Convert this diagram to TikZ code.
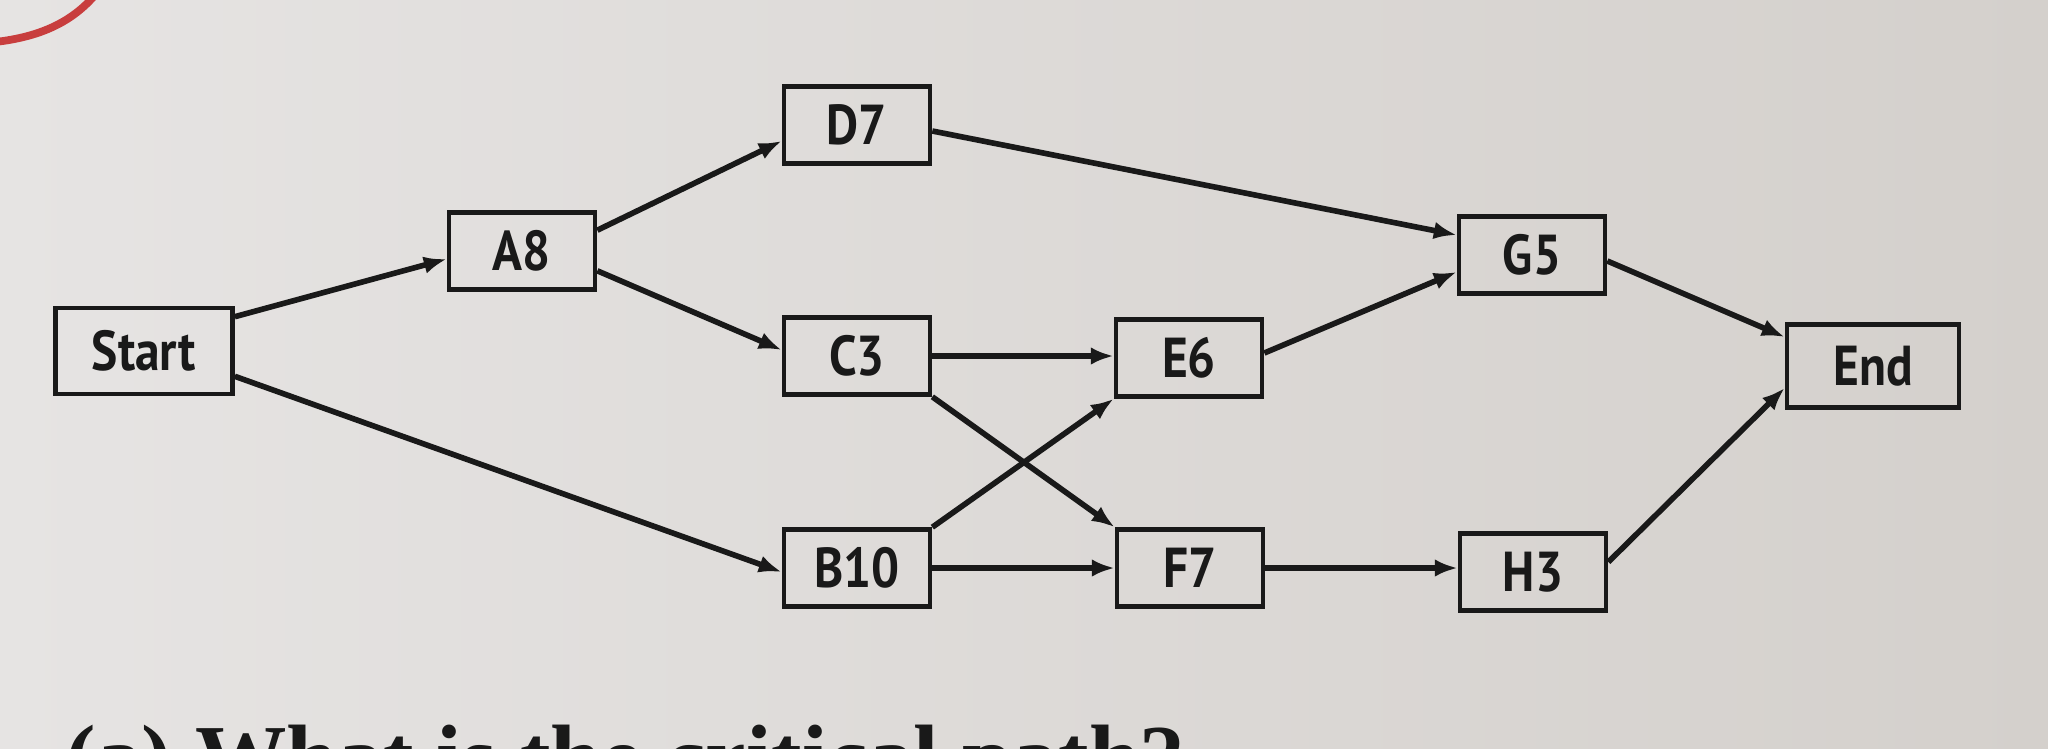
\documentclass[tikz,border=0pt]{standalone}
\usepackage{fontspec}
\setmainfont{Liberation Serif}
\newfontfamily\boxfont[FakeStretch=0.88]{PT Sans}
\usetikzlibrary{arrows.meta,calc}
\definecolor{bgL}{RGB}{230,228,227}
\definecolor{bgR}{RGB}{212,208,204}
\definecolor{ink}{RGB}{25,25,25}
\definecolor{penred}{RGB}{200,62,62}
\begin{document}
\begin{tikzpicture}[x=0.01cm,y=-0.01cm,
  task/.style={draw=ink, line width=1.3pt, minimum width=1.46cm, minimum height=0.77cm,
    inner sep=0pt, text=ink, font=\boxfont\bfseries\fontsize{16}{18}\selectfont},
  conn/.style={draw=ink, line width=1.6pt, -{Latex[length=6.5pt,width=5pt]}}]
\useasboundingbox (0,0) rectangle (2048,748);
\clip (0,0) rectangle (2048,748);
\shade[left color=bgL, right color=bgR] (0,0) rectangle (2048,748);
% red pen mark
\draw[penred, line width=2.2pt] (-5,42) .. controls (40,37) and (72,22) .. (95,-5);
% nodes
\node[task, minimum width=1.77cm, minimum height=0.86cm] (start) at (144,351) {Start};
\node[task] (a8) at (522,251) {A8};
\node[task] (d7) at (857,125) {D7};
\node[task] (c3) at (857,356) {C3};
\node[task] (e6) at (1189,358) {E6};
\node[task] (g5) at (1532,255) {G5};
\node[task, minimum width=1.72cm, minimum height=0.83cm] (end) at (1873,366) {End};
\node[task] (b10) at (857,568) {B10};
\node[task] (f7) at (1190,568) {F7};
\node[task] (h3) at (1533,572) {H3};
% connectors
\draw[conn] ($(start.north east)+(0,11)$) -- ($(a8.west)+(0,8)$);
\draw[conn] ($(a8.north east)+(0,20)$) -- ($(d7.west)+(0,16)$);
\draw[conn] ($(a8.south east)+(0,-21)$) -- ($(c3.west)+(0,-6)$);
\draw[conn] ($(start.south east)+(0,-20)$) -- ($(b10.west)+(0,4)$);
\draw[conn] ($(d7.east)+(0,6)$) -- ($(g5.west)+(0,-20)$);
\draw[conn] (c3.east) -- (c3.east -| e6.west);
\draw[conn] (c3.south east) -- (f7.north west);
\draw[conn] (b10.north east) -- (e6.south west);
\draw[conn] (b10.east) -- (b10.east -| f7.west);
\draw[conn] ($(e6.east)+(0,-5)$) -- ($(g5.west)+(0,17)$);
\draw[conn] ($(g5.east)+(0,6)$) -- ($(end.west)+(0,-29)$);
\draw[conn] (f7.east) -- (f7.east -| h3.west);
\draw[conn] ($(h3.east)+(0,-10)$) -- ($(end.west)+(0,22)$);
% question text, cut off by the lower edge as in the reference
\node[anchor=base west, inner sep=0pt, text=ink, font=\bfseries\fontsize{26}{29}\selectfont] (q) at (65,788) {(a) What is the critical path?};
\end{tikzpicture}
\end{document}
